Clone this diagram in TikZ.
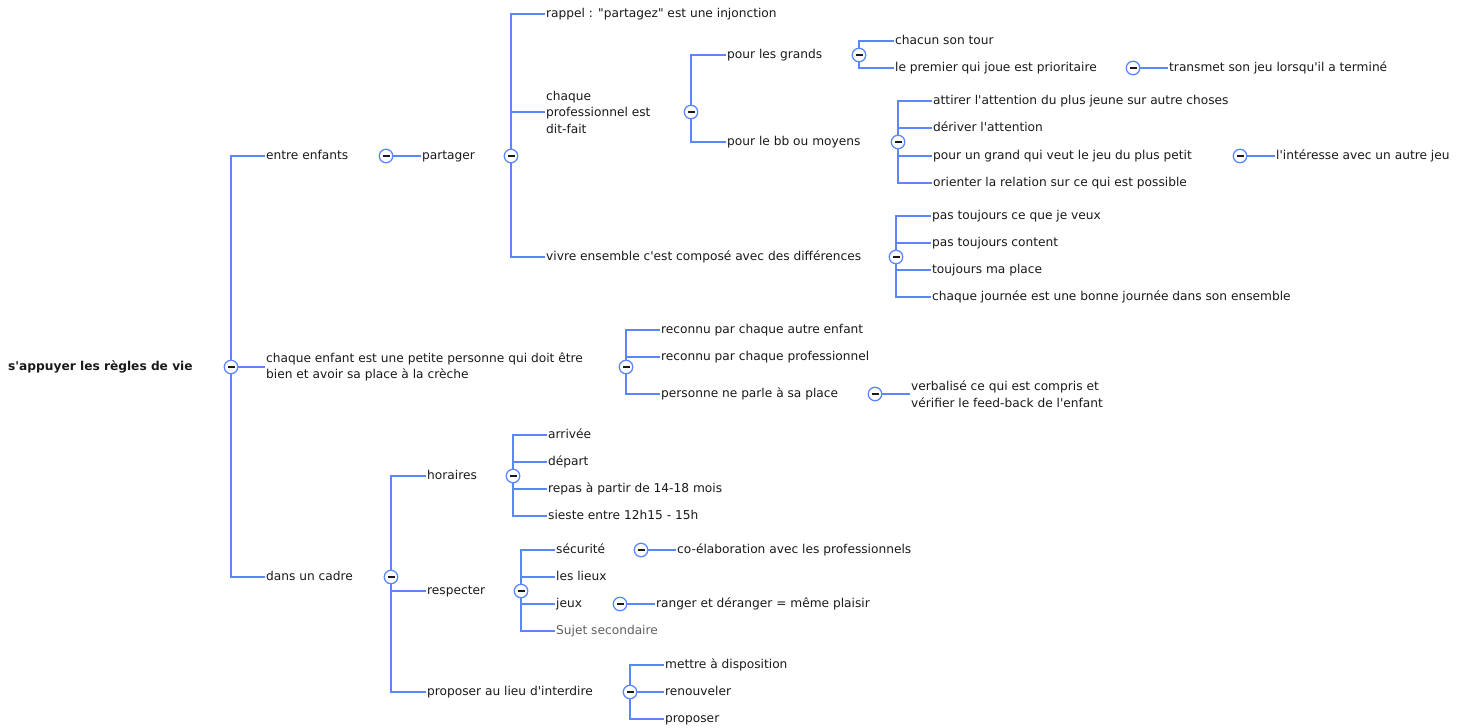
\documentclass[tikz,border=0pt]{standalone}
\usepackage{fontspec}
\setmainfont{DejaVu Sans}[Ligatures=TeXOff]
\usetikzlibrary{positioning, backgrounds}
\definecolor{linkblue}{RGB}{90,135,255}
\definecolor{textgray}{RGB}{25,25,25}
\definecolor{subgray}{RGB}{95,95,95}
\tikzstyle{topic}=[anchor=west, inner sep=1pt, text=textgray,
  font=\fontsize{12.2}{16.5}\selectfont, text height=9pt, text depth=3pt]
\tikzstyle{multi}=[anchor=west, inner sep=1pt, text=textgray,
  font=\fontsize{12.2}{16.5}\selectfont, align=left]
\tikzstyle{toggle}=[circle, draw=linkblue, fill=white, line width=1.3pt,
  minimum size=13.5pt, inner sep=0pt,
  path picture={\draw[textgray, line width=1.6pt]
    ([xshift=-3.5pt]path picture bounding box.center) --
    ([xshift=3.5pt]path picture bounding box.center);}]
\tikzstyle{link}=[draw=linkblue, line width=1.3pt]

\begin{document}
\begin{tikzpicture}[x=1pt, y=-1pt]
  \useasboundingbox (0,0) rectangle (1467,728);
  % root
  \node[topic, font=\fontsize{12.2}{16.5}\selectfont\bfseries] (root) at (7,367) {s'appuyer les règles de vie};
  \node[toggle] (c-root) at (231,367) {};
  % entre enfants
  \node[topic] (entre) at (265,156) {entre enfants};
  \node[toggle] (c-entre) at (386,156) {};
  \node[topic] (partager) at (421,156) {partager};
  \node[toggle] (c-partager) at (511,156) {};
  \node[topic] (rappel) at (545,14) {rappel : "partagez" est une injonction};
  \node[multi] (chaque) at (545,112) {chaque\\professionnel est\\dit-fait};
  \node[toggle] (c-chaque) at (691,112) {};
  \node[topic] (grands) at (726,55) {pour les grands};
  \node[toggle] (c-grands) at (859,55) {};
  \node[topic] (tour) at (894,41) {chacun son tour};
  \node[topic] (premier) at (894,68) {le premier qui joue est prioritaire};
  \node[toggle] (c-premier) at (1133,68) {};
  \node[topic] (transmet) at (1168,68) {transmet son jeu lorsqu'il a terminé};
  \node[topic] (bb) at (726,142) {pour le bb ou moyens};
  \node[toggle] (c-bb) at (898,142) {};
  \node[topic] (attirer) at (932,101) {attirer l'attention du plus jeune sur autre choses};
  \node[topic] (deriver) at (932,128) {dériver l'attention};
  \node[topic] (grand) at (932,156) {pour un grand qui veut le jeu du plus petit};
  \node[toggle] (c-grand) at (1240,156) {};
  \node[topic] (interesse) at (1275,156) {l'intéresse avec un autre jeu};
  \node[topic] (orienter) at (932,183) {orienter la relation sur ce qui est possible};
  \node[topic] (vivre) at (545,257) {vivre ensemble c'est composé avec des différences};
  \node[toggle] (c-vivre) at (896,257) {};
  \node[topic] (veux) at (931,216) {pas toujours ce que je veux};
  \node[topic] (content) at (931,243) {pas toujours content};
  \node[topic] (place) at (931,270) {toujours ma place};
  \node[topic] (journee) at (931,297) {chaque journée est une bonne journée dans son ensemble};
  % chaque enfant
  \node[multi] (enfant) at (265,367) {chaque enfant est une petite personne qui doit être\\bien et avoir sa place à la crèche};
  \node[toggle] (c-enfant) at (626,367) {};
  \node[topic] (autre) at (660,330) {reconnu par chaque autre enfant};
  \node[topic] (reconnupro) at (660,357) {reconnu par chaque professionnel};
  \node[topic] (parle) at (660,394) {personne ne parle à sa place};
  \node[toggle] (c-parle) at (875,394) {};
  \node[multi] (verbalise) at (910,394) {verbalisé ce qui est compris et\\vérifier le feed-back de l'enfant};
  % dans un cadre
  \node[topic] (cadre) at (265,577) {dans un cadre};
  \node[toggle] (c-cadre) at (391,577) {};
  \node[topic] (horaires) at (426,476) {horaires};
  \node[toggle] (c-horaires) at (513,476) {};
  \node[topic] (arrivee) at (547,435) {arrivée};
  \node[topic] (depart) at (547,462) {départ};
  \node[topic] (repas) at (547,489) {repas à partir de 14-18 mois};
  \node[topic] (sieste) at (547,516) {sieste entre 12h15 - 15h};
  \node[topic] (respecter) at (426,591) {respecter};
  \node[toggle] (c-respecter) at (521,591) {};
  \node[topic] (securite) at (555,550) {sécurité};
  \node[toggle] (c-securite) at (641,550) {};
  \node[topic] (coelab) at (676,550) {co-élaboration avec les professionnels};
  \node[topic] (lieux) at (555,577) {les lieux};
  \node[topic] (jeux) at (555,604) {jeux};
  \node[toggle] (c-jeux) at (620,604) {};
  \node[topic] (ranger) at (655,604) {ranger et déranger = même plaisir};
  \node[topic, text=subgray] (sujet) at (555,631) {Sujet secondaire};
  \node[topic] (interdire) at (426,692) {proposer au lieu d'interdire};
  \node[toggle] (c-interdire) at (630,692) {};
  \node[topic] (mettre) at (664,665) {mettre à disposition};
  \node[topic] (renouveler) at (664,692) {renouveler};
  \node[topic] (proposer) at (664,719) {proposer};

  \begin{pgfonlayer}{background}
    \foreach \n in {entre,cadre} \draw[link] (c-root) |- (\n);
    \draw[link] (c-root) -- (enfant);
    \draw[link] (c-entre) -- (partager);
    \foreach \n in {rappel,chaque,vivre} \draw[link] (c-partager) |- (\n);
    \foreach \n in {grands,bb} \draw[link] (c-chaque) |- (\n);
    \foreach \n in {tour,premier} \draw[link] (c-grands) |- (\n);
    \draw[link] (c-premier) -- (transmet);
    \foreach \n in {attirer,deriver,grand,orienter} \draw[link] (c-bb) |- (\n);
    \draw[link] (c-grand) -- (interesse);
    \foreach \n in {veux,content,place,journee} \draw[link] (c-vivre) |- (\n);
    \foreach \n in {autre,reconnupro,parle} \draw[link] (c-enfant) |- (\n);
    \draw[link] (c-parle) -- (verbalise);
    \foreach \n in {horaires,respecter,interdire} \draw[link] (c-cadre) |- (\n);
    \foreach \n in {arrivee,depart,repas,sieste} \draw[link] (c-horaires) |- (\n);
    \foreach \n in {securite,lieux,jeux,sujet} \draw[link] (c-respecter) |- (\n);
    \draw[link] (c-securite) -- (coelab);
    \draw[link] (c-jeux) -- (ranger);
    \foreach \n in {mettre,proposer} \draw[link] (c-interdire) |- (\n);
    \draw[link] (c-interdire) -- (renouveler);
  \end{pgfonlayer}
\end{tikzpicture}
\end{document}
